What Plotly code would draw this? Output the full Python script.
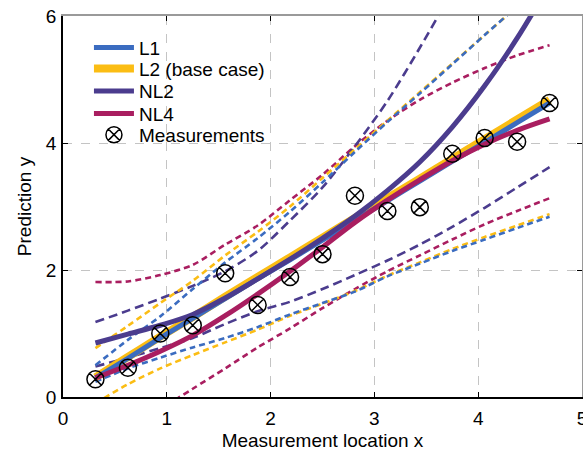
import plotly.graph_objects as go

# measurement locations and values
x_meas = [0.3125, 0.625, 0.9375, 1.25, 1.5625, 1.875, 2.1875, 2.5, 2.8125, 3.125, 3.4375, 3.75, 4.0625, 4.375, 4.6875]
y_meas = [0.28, 0.46, 1.00, 1.13, 1.95, 1.45, 1.89, 2.25, 3.17, 2.93, 2.99, 3.83, 4.08, 4.02, 4.63]

# model predictions evaluated at the measurement locations
L1_mean = [0.30, 0.61, 0.93, 1.24, 1.55, 1.86, 2.16, 2.47, 2.78, 3.09, 3.40, 3.71, 4.01, 4.32, 4.63]
L1_up   = [0.50, 0.90, 1.27, 1.70, 2.12, 2.50, 2.92, 3.38, 3.86, 4.33, 4.78, 5.24, 5.70, 6.15, 6.60]
L1_lo   = [0.24, 0.45, 0.62, 0.78, 0.93, 1.10, 1.30, 1.48, 1.66, 1.90, 2.10, 2.30, 2.48, 2.66, 2.84]

L2_mean = [0.31, 0.63, 0.95, 1.26, 1.58, 1.89, 2.20, 2.51, 2.82, 3.13, 3.44, 3.75, 4.06, 4.37, 4.68]
L2_up   = [0.77, 1.12, 1.48, 1.83, 2.23, 2.60, 3.00, 3.45, 3.90, 4.35, 4.80, 5.25, 5.70, 6.15, 6.60]
L2_lo   = [-0.10, 0.20, 0.45, 0.66, 0.86, 1.06, 1.28, 1.47, 1.67, 1.91, 2.12, 2.33, 2.52, 2.70, 2.88]

NL2_mean = [0.85, 0.99, 1.13, 1.30, 1.56, 1.86, 2.17, 2.50, 2.85, 3.25, 3.70, 4.25, 4.90, 5.65, 6.50]
NL2_up   = [1.18, 1.36, 1.55, 1.75, 1.98, 2.30, 2.78, 3.30, 3.95, 4.66, 5.50, 6.40, 7.40, 8.50, 9.70]
NL2_lo   = [0.48, 0.62, 0.77, 0.93, 1.15, 1.35, 1.50, 1.70, 1.92, 2.15, 2.40, 2.68, 2.98, 3.30, 3.62]

NL4_mean = [0.30, 0.50, 0.72, 0.97, 1.28, 1.62, 1.98, 2.36, 2.75, 3.10, 3.42, 3.72, 3.98, 4.20, 4.38]
NL4_up   = [1.81, 1.82, 1.92, 2.08, 2.40, 2.70, 3.10, 3.50, 3.95, 4.35, 4.68, 4.95, 5.18, 5.38, 5.54]
NL4_lo   = [-1.00, -0.60, -0.20, 0.13, 0.45, 0.78, 1.08, 1.40, 1.70, 1.98, 2.23, 2.48, 2.72, 2.93, 3.13]

x_ticks = [0, 1, 2, 3, 4, 5]
y_ticks = [0, 2, 4, 6]

C_L1 = "#3b6cc0"
C_L2 = "#fbbd14"
C_NL2 = "#4b3c8e"
C_NL4 = "#a91e60"

FONT = "Liberation Sans, Arial, sans-serif"

fig = go.Figure()


def band(y, color, dash, width=2.6):
    fig.add_trace(go.Scatter(x=x_meas, y=y, mode="lines", showlegend=False,
                             hoverinfo="skip",
                             line=dict(color=color, width=width, dash=dash, shape="spline", smoothing=0.8)))


dash_short = "6px,4px"
dash_long = "9px,5px"

# confidence bounds
band(NL4_up, C_NL4, dash_short)
band(NL4_lo, C_NL4, dash_short)
band(NL2_up, C_NL2, dash_long)
band(NL2_lo, C_NL2, dash_long)
band(L2_up, C_L2, dash_short)
band(L2_lo, C_L2, dash_short)
band(L1_up, C_L1, dash_short)
band(L1_lo, C_L1, dash_short)

# mean predictions (each in its own legend box so the row spacing can follow the reference)
fig.add_trace(go.Scatter(x=x_meas, y=L2_mean, mode="lines", name="L2 (base case)", legend="legend2",
                         line=dict(color=C_L2, width=8, shape="spline")))
fig.add_trace(go.Scatter(x=x_meas, y=L1_mean, mode="lines", name="L1", legend="legend",
                         line=dict(color=C_L1, width=5, shape="spline")))
fig.add_trace(go.Scatter(x=x_meas, y=NL2_mean, mode="lines", name="NL2", legend="legend3",
                         line=dict(color=C_NL2, width=5, shape="spline")))
fig.add_trace(go.Scatter(x=x_meas, y=NL4_mean, mode="lines", name="NL4", legend="legend4",
                         line=dict(color=C_NL4, width=5, shape="spline")))
fig.add_trace(go.Scatter(x=x_meas, y=y_meas, mode="markers", name="Measurements", legend="legend5",
                         marker=dict(symbol="circle-x-open", size=17, color="black",
                                     line=dict(color="black", width=1.5))))

# invisible trace for mirrored tick axes
fig.add_trace(go.Scatter(x=[None], y=[None], xaxis="x2", yaxis="y2", showlegend=False, hoverinfo="skip"))

axis_common = dict(ticks="inside", ticklen=5, tickwidth=1, tickcolor="black",
                   showgrid=True, gridcolor="#c4c4c4", griddash="dash", gridwidth=1,
                   zeroline=False, showline=True, linecolor="black", linewidth=1.5,
                   automargin=False, ticklabeloverflow="allow",
                   tickfont=dict(family=FONT, size=19, color="black"))

legend_rows = [0.917, 0.862, 0.803, 0.744, 0.688]


def leg(y):
    return dict(x=0.05, y=y, xanchor="left", yanchor="middle",
                bgcolor="rgba(0,0,0,0)", borderwidth=0,
                font=dict(family=FONT, size=19, color="black"), itemwidth=40)


fig.update_layout(
    template="none",
    width=583, height=457,
    margin=dict(l=63, r=1, t=16, b=60),
    paper_bgcolor="white", plot_bgcolor="white",
    font=dict(family=FONT, size=19, color="black"),
    showlegend=True,
    legend=leg(legend_rows[0]),
    legend2=leg(legend_rows[1]),
    legend3=leg(legend_rows[2]),
    legend4=leg(legend_rows[3]),
    legend5=leg(legend_rows[4]),
    xaxis=dict(range=[0, 5], tickvals=x_ticks, ticklabelstandoff=3,
               title=dict(text="Measurement location x", standoff=6,
                          font=dict(family=FONT, size=19)), **axis_common),
    yaxis=dict(range=[0, 6], tickvals=y_ticks, ticklabelstandoff=1,
               title=dict(text="Prediction y", standoff=9,
                          font=dict(family=FONT, size=19)), **axis_common),
    xaxis2=dict(range=[0, 5], tickvals=x_ticks, overlaying="x", side="top", ticks="inside", ticklen=5,
                tickcolor="black", showticklabels=False, showgrid=False, zeroline=False,
                showline=True, linecolor="#9a9a9a", linewidth=1.5, automargin=False),
    yaxis2=dict(range=[0, 6], tickvals=y_ticks, overlaying="y", side="right", ticks="inside", ticklen=5,
                tickcolor="black", showticklabels=False, showgrid=False, zeroline=False,
                showline=True, linecolor="#9a9a9a", linewidth=1.5, automargin=False),
)

fig.write_html("out.html", config={"displayModeBar": False},
               post_script="document.body.style.margin='0';document.body.style.overflow='hidden';")
